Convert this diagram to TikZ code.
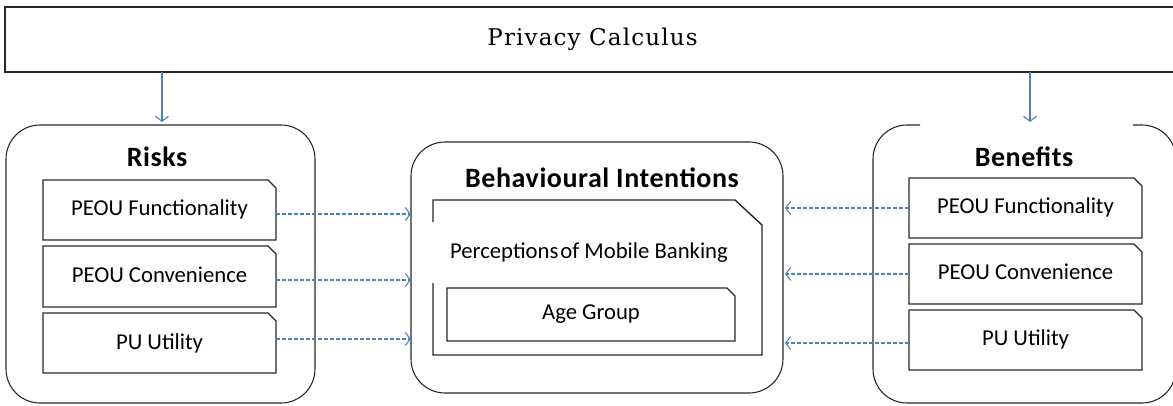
\documentclass[tikz,border=0pt]{standalone}
\usepackage{fontspec}
\usetikzlibrary{arrows.meta,calc}
\newfontfamily\sansf{Carlito}
\newfontfamily\sanstitle{Carlito}[LetterSpace=2]
\newfontfamily\slabf{DejaVu Serif}[LetterSpace=5]
\definecolor{linkblue}{RGB}{79,129,189}
\definecolor{edge}{RGB}{40,40,40}
% box with its top-right corner cut off
\newcommand\snipframe[2]{%
  \draw[snipline] (#1.south west) -- (#1.north west) -- ([xshift=-#2]#1.north east)
    -- ([yshift=-#2]#1.north east) -- (#1.south east) -- cycle;}
\tikzset{
  snipline/.style={draw=edge,line width=1.4pt},
  roundbox/.style={draw=edge,line width=1.1pt,rounded corners=34pt},
  holder/.style={inner sep=0pt,outer sep=0pt},
  itemfont/.style={font=\sansf\fontsize{22.7}{25}\selectfont},
  itembox/.style={holder,itemfont,minimum width=233pt,minimum height=60pt},
  title/.style={font=\sanstitle\bfseries\fontsize{28}{31}\selectfont},
  solidarr/.style={draw=linkblue,line width=1.1pt,-{Straight Barb[length=5pt,width=13pt]}},
  dasharr/.style={draw=linkblue,line width=1.1pt,dash pattern=on 4pt off 2pt,
    -{Straight Barb[length=5pt,width=13pt]}},
}
\begin{document}
\begin{tikzpicture}[x=1pt,y=-1pt]
\useasboundingbox (0,0) rectangle (1173,405);

% heading bar
\node[holder,draw=edge,line width=1.4pt,minimum width=1175pt,minimum height=65pt,
  font=\slabf\fontsize{23}{26}\selectfont] (pc) at (592.5,39.5) {Privacy Calculus};

% risks group
\node[holder,roundbox,minimum width=309pt,minimum height=278pt] (risks) at (160.5,264) {};
\node[title] (rt) at (157,157) {Risks};
\node[itembox] (r1) at (159.5,210) {\raisebox{5pt}{PEOU Functionality}};
\node[itembox,minimum height=61pt] (r2) at (159.5,276.5) {\raisebox{4pt}{PEOU Convenience}};
\node[itembox] (r3) at (159.5,343) {PU Utility};
\snipframe{r1}{8pt}\snipframe{r2}{8pt}\snipframe{r3}{8pt}

% behavioural intentions group
\node[holder,roundbox,minimum width=372pt,minimum height=251pt] (mid) at (597,267.5) {};
\node[title] (mt) at (602,178) {Behavioural Intentions};
\node[holder,minimum width=329pt,minimum height=155pt] (fr) at (597.5,277.5) {};
\draw[snipline] ([yshift=-22pt]fr.north west) -- (fr.north west) -- ([xshift=-27pt]fr.north east)
  -- ([yshift=-25pt]fr.north east) -- (fr.south east) -- (fr.south west)
  -- ([yshift=-83pt]fr.north west);
\node[itemfont] (pm) at (589,253) {Perceptions\hspace{2pt}of Mobile Banking};
\node[holder,itemfont,minimum width=288pt,minimum height=53pt] (age) at (591,314.5)
  {\raisebox{1pt}{Age Group}};
\snipframe{age}{8pt}

% benefits group, top edge left open in the middle
\node[holder,minimum width=303pt,minimum height=278pt] (ben) at (1024.5,264) {};
\draw[roundbox] ([xshift=47pt]ben.north west) -- (ben.north west) -- (ben.south west)
  -- (ben.south east) -- (ben.north east) -- ([xshift=-43pt]ben.north east);
\node[title] (bt) at (1024,157) {Benefits};
\node[itembox] (b1) at (1025.5,208) {\raisebox{4pt}{PEOU Functionality}};
\node[itembox] (b2) at (1025.5,274) {\raisebox{4pt}{PEOU Convenience}};
\node[itembox] (b3) at (1025.5,340) {\raisebox{5pt}{PU Utility}};
\snipframe{b1}{8pt}\snipframe{b2}{8pt}\snipframe{b3}{8pt}

% calculus feeds both sides
\coordinate (lt) at (162,72);
\coordinate (rtp) at (1030,72);
\draw[solidarr] (pc.south -| lt) -- ([yshift=3pt]lt |- risks.north);
\draw[solidarr] (pc.south -| rtp) -- ([yshift=3pt]rtp |- ben.north);

% risks into intentions
\draw[dasharr] ([yshift=-4pt]r1.east) -- ([yshift=-4pt]r1.east -| mid.west);
\draw[dasharr] ([yshift=-3.5pt]r2.east) -- ([yshift=-3.5pt]r2.east -| mid.west);
\draw[dasharr] ([yshift=4pt]r3.east) -- ([yshift=4pt]r3.east -| mid.west);

% benefits into intentions
\draw[dasharr] (b1.west) -- ([xshift=2pt]b1.west -| mid.east);
\draw[dasharr] (b2.west) -- ([xshift=2pt]b2.west -| mid.east);
\draw[dasharr] ([yshift=-3pt]b3.west) -- ([yshift=-3pt,xshift=2pt]b3.west -| mid.east);
\end{tikzpicture}
\end{document}
